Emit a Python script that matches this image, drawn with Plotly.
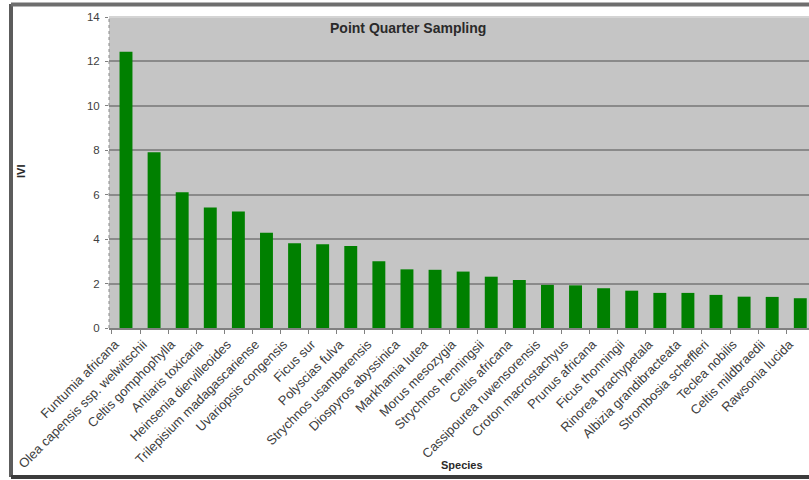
import plotly.graph_objects as go

# Importance Value Index (IVI) per species, point-quarter sampling
species = [
    "Funtumia africana", "Olea capensis ssp. welwitschii", "Celtis gomphophylla",
    "Antiaris toxicaria", "Heinsenia diervilleoides", "Trilepisium madagascariense",
    "Uvariopsis congensis", "Ficus sur", "Polyscias fulva", "Strychnos usambarensis",
    "Diospyros abyssinica", "Markhamia lutea", "Morus mesozygia", "Strychnos henningsii",
    "Celtis africana", "Cassipourea ruwensorensis", "Croton macrostachyus",
    "Prunus africana", "Ficus thonningii", "Rinorea brachypetala",
    "Albizia grandibracteata", "Strombosia scheffleri", "Teclea nobilis",
    "Celtis mildbraedii", "Rawsonia lucida",
]
ivi = [
    12.44, 7.91, 6.11, 5.43, 5.24, 4.29, 3.81, 3.77, 3.69, 3.0,
    2.64, 2.62, 2.54, 2.31, 2.16, 1.94, 1.92, 1.79, 1.68, 1.58,
    1.58, 1.49, 1.41, 1.40, 1.34,
]
y_ticks = [0, 2, 4, 6, 8, 10, 12, 14]

W, H = 809, 480
L, T, B = 109, 17, 152          # plot area: x 109..809, y 17..328
PW, PH = W - L, H - T - B


def px(x):
    return (x - L) / PW


def py(y):
    return (H - B - y) / PH


fig = go.Figure(go.Bar(
    x=species, y=ivi,
    marker=dict(color="#008000", line=dict(width=0)),
    width=0.46,
))

tick_font = dict(family="Liberation Sans, Arial, sans-serif", size=13, color="#404040")
bold_font = dict(family="Liberation Sans, Arial, sans-serif", color="#2a2a2a")

fig.update_layout(
    width=W, height=H,
    margin=dict(l=L, r=0, t=T, b=B, pad=0),
    paper_bgcolor="white",
    plot_bgcolor="#c5c5c5",
    showlegend=False,
    bargap=0.54,
    xaxis=dict(
        type="category",
        range=[-0.605, 24.31],
        tickangle=-45,
        tickfont=tick_font,
        ticklabelshift=-11,
        ticklabelstandoff=2,
        ticks="outside", tickson="boundaries", ticklen=4,
        tickcolor="#808080", tickwidth=1,
        showline=True, linecolor="#808080", linewidth=1.5,
        showgrid=False,
    ),
    yaxis=dict(
        range=[0, 14],
        tickvals=y_ticks,
        tickfont=dict(family="Liberation Sans, Arial, sans-serif", size=11.5, color="#404040"),
        ticks="outside", ticklen=3, tickcolor="#808080",
        ticklabelstandoff=3,
        showgrid=True, gridcolor="#8a8a8a", gridwidth=1.5,
        zeroline=False, showline=False,
    ),
    annotations=[
        dict(text="<b>Point Quarter Sampling</b>", xref="paper", yref="paper",
             x=px(408), y=py(28), showarrow=False, xanchor="center", yanchor="middle",
             font=dict(size=14, **bold_font)),
        dict(text="<b>IVI</b>", xref="paper", yref="paper",
             x=px(21), y=py(172), showarrow=False, textangle=-90,
             xanchor="center", yanchor="middle", font=dict(size=11, **bold_font)),
        dict(text="<b>Species</b>", xref="paper", yref="paper",
             x=px(462), y=py(465), showarrow=False,
             xanchor="center", yanchor="middle", font=dict(size=11, **bold_font)),
    ],
    shapes=[
        # lighter top edge of the plot area
        dict(type="line", xref="paper", yref="paper", x0=0, x1=1, y0=1, y1=1,
             line=dict(color="#d4d4d4", width=2)),
        # dotted value axis line
        dict(type="line", xref="paper", yref="paper", x0=0, x1=0, y0=0, y1=1,
             line=dict(color="#8a8a8a", width=1, dash="dot")),
        # outer chart frame
        dict(type="line", xref="paper", yref="paper", x0=px(11), x1=px(11),
             y0=py(4), y1=py(477), line=dict(color="#5c5c5c", width=4)),
        dict(type="line", xref="paper", yref="paper", x0=px(11), x1=px(812),
             y0=py(4.5), y1=py(4.5), line=dict(color="#6e6e6e", width=4)),
        dict(type="line", xref="paper", yref="paper", x0=px(11), x1=px(812),
             y0=py(477), y1=py(477), line=dict(color="#3c3c3c", width=4)),
    ],
)

fig.write_html("out.html")
